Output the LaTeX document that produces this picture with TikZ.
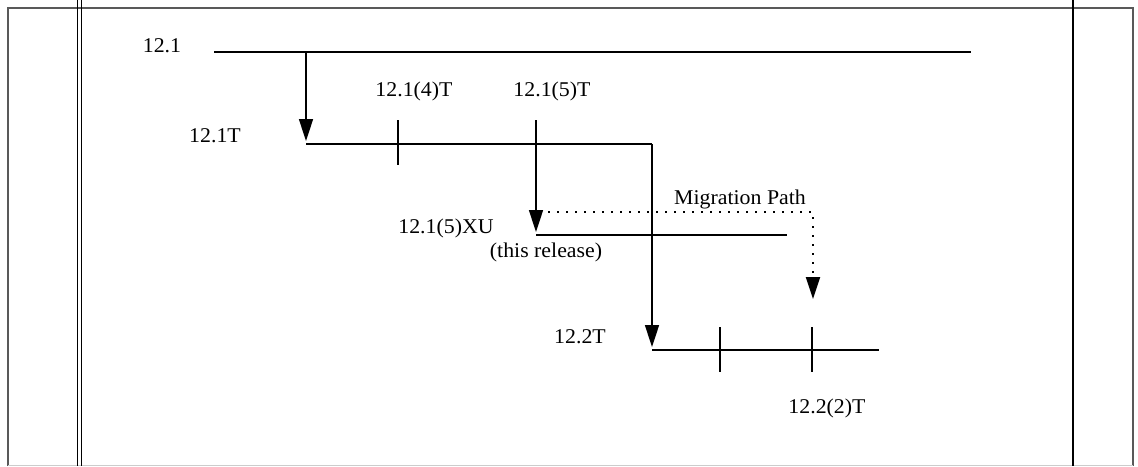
\documentclass[tikz,border=0pt]{standalone}
\usepackage{fontspec}
\setmainfont{Liberation Serif}
\usetikzlibrary{arrows.meta}
\begin{document}
\begin{tikzpicture}[x=1pt,y=-1pt,
  lbl/.style={font=\fontsize{21}{24}\selectfont, inner sep=0pt, xscale=1.04},
  rel/.style={draw=black, line width=1.6pt},
  arr/.style={rel, -{Triangle[width=14pt,length=22pt]}},
  mig/.style={draw=black, line width=2pt, dash pattern=on 2pt off 7pt, -{Triangle[width=14pt,length=22pt]}},
  frame/.style={draw=black!65, line width=2pt}]
\useasboundingbox (0,0) rectangle (1138,466);
% frame
\draw[frame] (8,466) -- (8,8) -- (1133,8) -- (1133,466);
\draw[draw=black!20, line width=1pt] (8,465.5) -- (1133,465.5);
\draw[line width=1.4pt] (77.5,0) -- (77.5,466);
\draw[line width=1.4pt] (81.5,0) -- (81.5,466);
\draw[line width=2pt] (1073,0) -- (1073,466);
% coordinates
\coordinate (a0) at (214,52);
\coordinate (a1) at (971,52);
\coordinate (ab) at (306,52);
\coordinate (bt) at (306,141);
\coordinate (b0) at (306,144);
\coordinate (b1) at (652,144);
\coordinate (k1t) at (398,120);
\coordinate (k1b) at (398,165);
\coordinate (k2t) at (536,120);
\coordinate (k2a) at (536,232);
\coordinate (x0) at (536,235);
\coordinate (x1) at (787,235);
\coordinate (m0) at (548,212);
\coordinate (m1) at (813,212);
\coordinate (m2) at (813,299);
\coordinate (ct) at (652,347);
\coordinate (c0) at (652,350);
\coordinate (c1) at (879,350);
\coordinate (t1t) at (720,327);
\coordinate (t1b) at (720,372);
\coordinate (t2t) at (812,327);
\coordinate (t2b) at (812,372);
% labels
\node[lbl] (l121) at (162,46) {12.1};
\node[lbl] (l121T) at (215,136) {12.1T};
\node[lbl] (l1214) at (414,91) {12.1(4)T};
\node[lbl] (l1215) at (552,91) {12.1(5)T};
\node[lbl] (lmig) at (740,199) {Migration Path};
\node[lbl] (lxu) at (446,228) {12.1(5)XU};
\node[lbl] (lrel) at (546,252) {(this release)};
\node[lbl] (l122T) at (580,337) {12.2T};
\node[lbl] (l1222) at (827,408) {12.2(2)T};
% release lines
\draw[rel] (a0) -- (a1);
\draw[arr] (ab) -- (bt);
\draw[rel] (b0) -- (b1);
\draw[rel] (k1t) -- (k1b);
\draw[arr] (k2t) -- (k2a);
\draw[rel] (x0) -- (x1);
\draw[mig] (m0) -- (m1) -- (m2);
\draw[arr] (b1) -- (ct);
\draw[rel] (c0) -- (c1);
\draw[rel] (t1t) -- (t1b);
\draw[rel] (t2t) -- (t2b);
\end{tikzpicture}
\end{document}
